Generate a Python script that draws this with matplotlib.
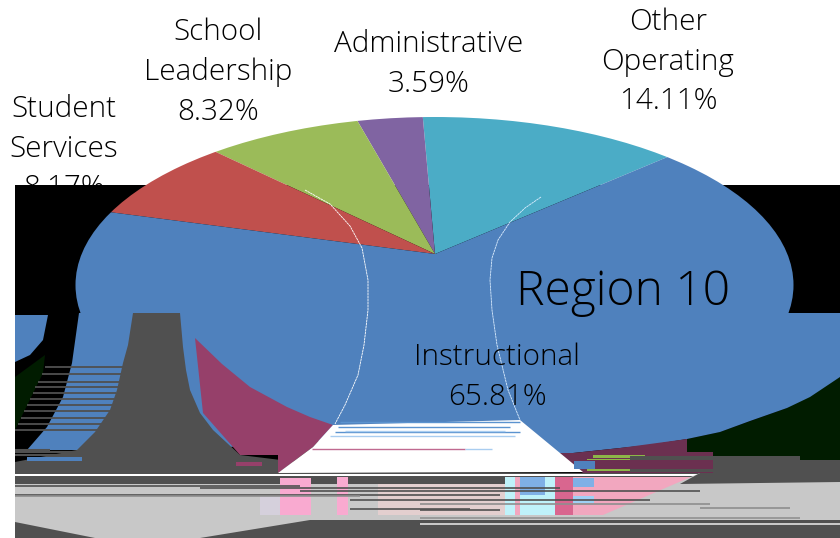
import matplotlib
matplotlib.use("Agg")
import matplotlib.pyplot as plt
from matplotlib.patches import Ellipse, Polygon, Rectangle

categories = ["Other\nOperating", "Administrative", "School\nLeadership", "Student\nServices", "Instructional"]
shares = [14.11, 3.59, 8.32, 8.17, 65.81]
colors = ["#4BACC6", "#8064A2", "#9BBB59", "#C0504D", "#4F81BD"]
title = "Region 10"

W, H = 840, 538
FONT = "Open Sans"
SQUASH = 0.47

fig = plt.figure(figsize=(W / 100, H / 100), dpi=100, facecolor="white")

# --- back layer in pixel coordinates
back = fig.add_axes([0, 0, 1, 1], zorder=0)
back.set_xlim(0, W); back.set_ylim(H, 0); back.axis("off")
back.add_patch(Rectangle((15, 185), W - 15, H - 185, fc="black", ec="none", zorder=3))

# --- the pie, in a squashed space so that it renders as a tilted ellipse
ax = fig.add_axes([0, 0, 1, 1], zorder=1)
py = lambda y: (H - y) / SQUASH
wedges, _ = ax.pie(shares, colors=colors, startangle=41.6, radius=1200,
                   center=(435, py(254)), wedgeprops=dict(linewidth=0))
ax.set_aspect("auto")
ax.set_xlim(0, W); ax.set_ylim(0, py(0)); ax.axis("off")
outline = Ellipse((434.5, py(285)), 718, 336 / SQUASH, transform=ax.transData, fc="none", ec="none")
ax.add_patch(outline)
for w in wedges:
    w.set_clip_on(True)
    w.set_clip_path(outline)

# --- front layer: the damaged lower part of the image
top = fig.add_axes([0, 0, 1, 1], zorder=2)
top.set_xlim(0, W); top.set_ylim(H, 0); top.axis("off")


def poly(pts, color, z=1):
    top.add_patch(Polygon(pts, closed=True, fc=color, ec="none", zorder=z))


def rect(x0, y0, x1, y1, color, z=1):
    top.add_patch(Rectangle((x0, y0), x1 - x0, y1 - y0, fc=color, ec="none", zorder=z))


def stripes(rows, color, z=4, lw=1.3):
    for y, x0, x1 in rows:
        top.plot([x0, x1], [y, y], color=color, lw=lw, solid_capstyle="butt", zorder=z)


BLUE = colors[4]
GRAY = "#505050"
LGRAY = "#C8C8C8"
rect(15, 314, W, H, "black", 1)
poly([(687, 439), (720, 432), (787, 408), (840, 377), (840, 460), (687, 460)], "#011C00", 1.5)
poly([(15, 377), (45, 355), (43, 373), (15, 430)], "#011C00", 1.5)
poly([(79, 313), (840, 313), (840, 377), (810, 397), (787, 408), (750, 421), (720, 432), (687, 439),
      (650, 445), (620, 448), (573, 453), (553, 454), (300, 440), (200, 450), (27, 450), (47, 427),
      (63, 397), (72, 363)], BLUE, 2)
poly([(15, 315), (48, 315), (43, 340), (30, 355), (15, 362)], BLUE, 2)
poly([(553, 453), (573, 453), (620, 448), (687, 439), (687, 473), (583, 473)], "#6B3050", 2.5)
rect(687, 452, 713, 473, "#6B3050", 2.5)

# striping between the left black zone and the grey column
stripes([(y, max(15, 45 - (y - 367) * 0.48), 125 - (y - 367) * 0.35)
         for y in (367, 374, 382, 387, 393, 399, 405, 411, 418, 424, 430)], GRAY, 2.8)
stripes([(452, 15, 90), (455, 15, 60), (450, 15, 50)], GRAY, 2.8, 1.5)
rect(27, 457, 82, 461, BLUE, 3.5)

# grey column
poly([(133, 313), (180, 313), (183, 347), (186, 370), (190, 390), (200, 413), (213, 430), (240, 455),
      (297, 462), (278, 473), (15, 473), (15, 462), (77, 450), (95, 432), (110, 410), (117, 390),
      (123, 363), (128, 345)], GRAY, 3)
# magenta wedge
poly([(195, 338), (222, 364), (250, 387), (287, 407), (310, 417), (333, 425), (313, 447), (278, 473),
      (278, 455), (240, 455), (203, 413)], "#96406A", 3.5)
rect(236, 462, 262, 466, "#96406A", 3.6)

# white gap
poly([(333, 425), (520, 420), (583, 472), (278, 473), (313, 447)], "white", 4)
stripes([(422, 340, 520), (427, 338, 510), (432, 335, 520)], "#5B93CF", 5, 1.0)
stripes([(436, 330, 515), (431, 345, 505)], "#A9CDF0", 5, 1.0)
stripes([(449, 312, 465)], "#C06A90", 5, 1.0)
stripes([(449, 465, 492)], "#A9CDF0", 5, 1.0)

# lower band
rect(15, 473, W, 538, LGRAY, 3)
rect(15, 473, 840, 484, GRAY, 3.1)
rect(15, 474, 840, 476, "white", 3.2)
rect(505, 477, 700, 515, "#F2A7BF", 3.2)
poly([(700, 473), (603, 515), (840, 515), (840, 473)], LGRAY, 3.25)
poly([(700, 473), (840, 473), (840, 482), (680, 484)], GRAY, 3.4)
rect(378, 484, 505, 515, "#E3CFCF", 3.2)
rect(505, 477, 555, 515, "#BFF2FA", 3.3)
rect(515, 477, 520, 515, "#F2A7BF", 3.4)
rect(520, 477, 545, 495, "#7FB0E6", 3.4)
rect(573, 478, 594, 487, "#7FB0E6", 3.5)
rect(573, 496, 594, 503, "#9FD0F5", 3.5)
rect(555, 477, 573, 515, "#D9668F", 3.4)
rect(280, 478, 311, 515, "#F9AAD0", 3.3)
rect(337, 477, 348, 515, "#F9AAD0", 3.3)
rect(260, 495, 280, 515, "#D5D0DC", 3.25)
stripes([(486, 15, 300), (495, 15, 500), (488, 200, 560), (491, 300, 700), (500, 350, 650), (509, 350, 470),
         (510, 420, 500)], GRAY, 5, 1.2)
stripes([(496, 15, 360), (504, 420, 710), (508, 700, 790)], "#8E8E8E", 5, 1.2)
# wedge of dark grey at the very bottom
poly([(200, 538), (310, 520), (840, 520), (840, 538)], GRAY, 5)
poly([(15, 522), (15, 538), (95, 538)], GRAY, 5)
rect(420, 517, 800, 519, "#9A9A9A", 5.2)
rect(420, 523, 840, 525, LGRAY, 5.2)

# small green/blue remnants
rect(593, 455, 645, 458, "#8DB648", 5)
rect(587, 459, 630, 460, "#8DB648", 5)
rect(587, 469, 630, 471, "#8DB648", 5)
rect(574, 461, 595, 469, "#4F81BD", 5)
rect(630, 456, 800, 460, GRAY, 5)
rect(713, 460, 840, 473, GRAY, 5)
rect(630, 469, 713, 472, GRAY, 5)

# thin white arcs
top.plot([305, 330, 350, 362, 368, 368, 364, 358, 345, 335],
         [190, 204, 226, 248, 280, 310, 345, 375, 405, 424], color="white", lw=0.6, zorder=6, ls=(0, (3, 0.6)))
top.plot([541, 525, 510, 498, 492, 490, 492, 497, 508, 520],
         [197, 208, 222, 240, 258, 280, 310, 345, 390, 420], color="#DDEEFF", lw=0.6, zorder=6, ls=(0, (3, 0.6)))

# --- text
txt = dict(family=FONT, weight="light", ha="center", va="center", color="black", fontsize=21.3, linespacing=1.45)
back.text(64, 149, f"{categories[3]}\n{shares[3]:.2f}%", zorder=1, **txt)
top.text(218, 72, f"{categories[2]}\n{shares[2]:.2f}%", zorder=8, **txt)
top.text(429, 64, f"{categories[1]}\n{shares[1]:.2f}%", zorder=8, **txt)
top.text(668, 62, f"{categories[0]}\n{shares[0]:.2f}%", zorder=8, **txt)
top.text(497, 377, f"{categories[4]}\n{shares[4]:.2f}%", zorder=8, **txt)
top.text(623, 293, title, family=FONT, weight="light", ha="center", va="center", color="black",
         fontsize=34.6, zorder=8)

fig.savefig("out.png", dpi=100)
